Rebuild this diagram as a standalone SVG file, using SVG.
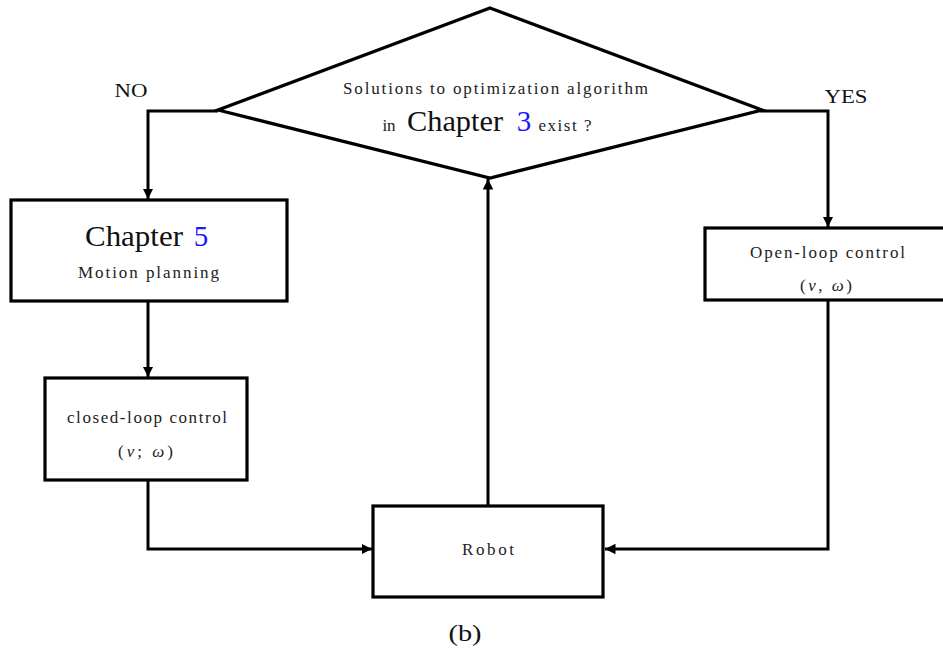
<svg xmlns="http://www.w3.org/2000/svg" width="943" height="652" viewBox="0 0 943 652">
<style>
.box{fill:#fff;stroke:#000;stroke-width:3.2}
.ln{fill:none;stroke:#000;stroke-width:3}
.s{font-family:"Liberation Serif","DejaVu Serif",serif;font-size:17px;fill:#222;text-anchor:middle}
.b{font-family:"Liberation Serif","DejaVu Serif",serif;font-size:29px;fill:#111;text-anchor:middle}
.m{font-family:"Liberation Serif","DejaVu Serif",serif;font-size:19px;fill:#111;text-anchor:middle}
.blue{fill:#1a1aff}
.i{font-style:italic}
</style>
<defs>
<marker id="ah" viewBox="0 0 10 10" refX="10" refY="5" markerWidth="3.5" markerHeight="3.5" orient="auto" markerUnits="strokeWidth">
<path d="M0,0 L10,5 L0,10 z" fill="#000"/>
</marker>
</defs>
<rect width="943" height="652" fill="#fff"/>
<g id="connectors">
<polyline class="ln" points="218,111 148,111 148,199" marker-end="url(#ah)"/>
<polyline class="ln" points="760,111 828,111 828,227" marker-end="url(#ah)"/>
<line class="ln" x1="148" y1="302" x2="148" y2="377" marker-end="url(#ah)"/>
<polyline class="ln" points="148,481 148,549 372,549" marker-end="url(#ah)"/>
<polyline class="ln" points="828,300 828,549 605,549" marker-end="url(#ah)"/>
<line class="ln" x1="488" y1="505" x2="488" y2="179" marker-end="url(#ah)"/>
</g>
<g id="decision">
<polygon class="box" points="490,8 762,110 490,178 218,110"/>
<text class="s" x="495.5" y="94" textLength="305" lengthAdjust="spacing">Solutions to optimization algorithm</text>
<text x="389" y="131" class="s">in</text>
<text x="455" y="131" class="b" textLength="96" lengthAdjust="spacingAndGlyphs">Chapter</text>
<text x="524" y="131" class="b blue">3</text>
<text x="565" y="131" class="s" textLength="53" lengthAdjust="spacing">exist ?</text>
</g>
<g id="label-no"><text class="m" x="131" y="97" textLength="33" lengthAdjust="spacingAndGlyphs">NO</text></g>
<g id="label-yes"><text class="m" x="846" y="103" textLength="43" lengthAdjust="spacingAndGlyphs">YES</text></g>
<g id="chapter5">
<rect class="box" x="11" y="200" width="276" height="101"/>
<text class="b" x="134" y="246" textLength="98" lengthAdjust="spacingAndGlyphs">Chapter</text>
<text class="b blue" x="201" y="246">5</text>
<text class="s" x="148.5" y="278" textLength="141" lengthAdjust="spacing">Motion planning</text>
</g>
<g id="openloop">
<rect class="box" x="705" y="228" width="245" height="72"/>
<text class="s" x="827.5" y="258" textLength="155" lengthAdjust="spacing">Open-loop control</text>
<text class="s" x="826" y="291" textLength="52" lengthAdjust="spacing">(<tspan class="i">v</tspan>, <tspan class="i">ω</tspan>)</text>
</g>
<g id="closedloop">
<rect class="box" x="45" y="378" width="202" height="102"/>
<text class="s" x="147" y="423" textLength="160" lengthAdjust="spacing">closed-loop control</text>
<text class="s" x="145.5" y="457" textLength="55" lengthAdjust="spacing">(<tspan class="i">v</tspan>; <tspan class="i">ω</tspan>)</text>
</g>
<g id="robot">
<rect class="box" x="373" y="506" width="230" height="91"/>
<text class="s" x="488" y="555" textLength="52" lengthAdjust="spacing">Robot</text>
</g>
<text x="465" y="641" font-family="Liberation Serif, serif" font-size="24" text-anchor="middle" fill="#111" textLength="33" lengthAdjust="spacingAndGlyphs">(b)</text>
</svg>
